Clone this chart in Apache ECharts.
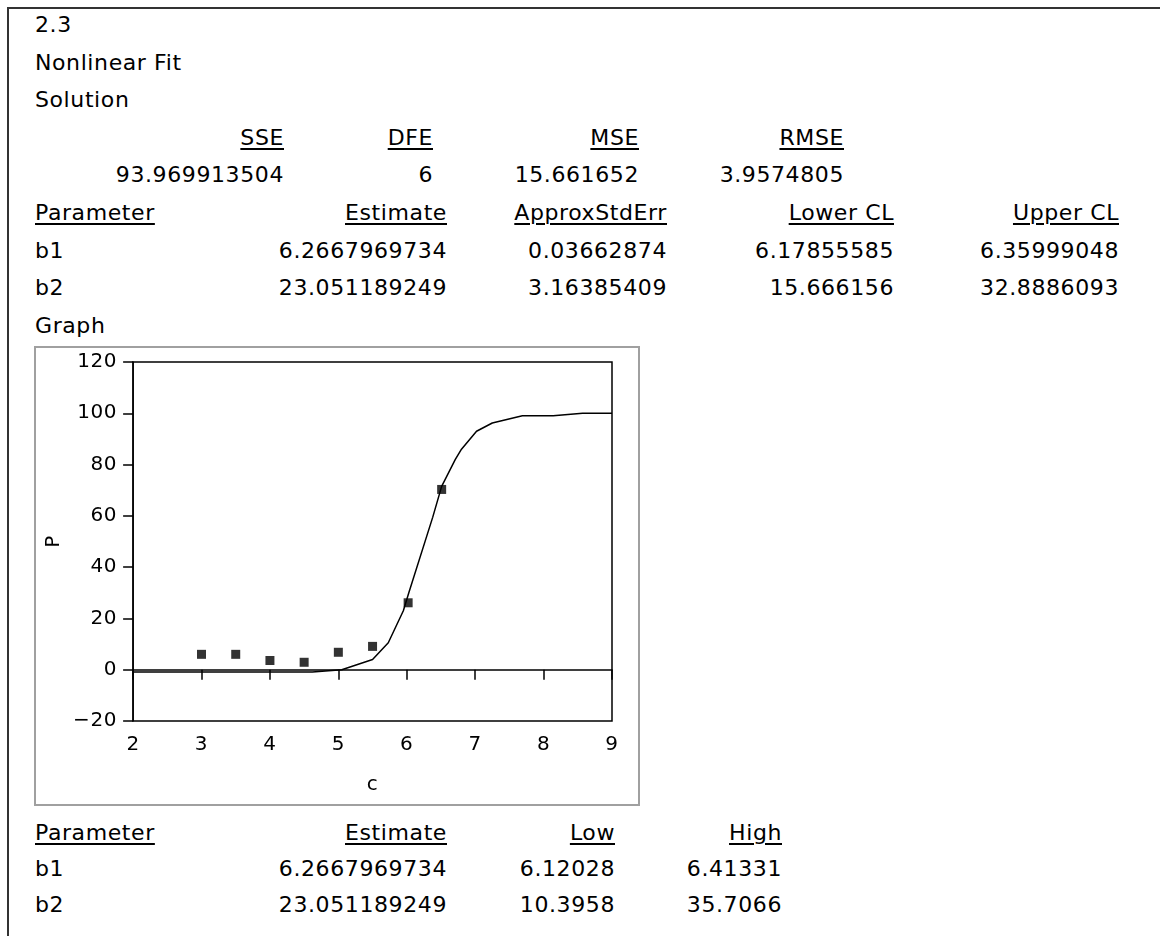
<!DOCTYPE html>
<html>
<head>
<meta charset="utf-8">
<script src="https://cdn.jsdelivr.net/npm/echarts@6/dist/echarts.min.js"></script>
<style>
    body { margin: 0; background: #fff; overflow: hidden; }
    #page { position: relative; width: 1160px; height: 936px; font-family: "DejaVu Sans", sans-serif; font-size: 22px; letter-spacing: 0.6px; color: #000; }
    #frame { position: absolute; left: 7px; top: 7px; width: 1200px; height: 1000px; border-top: 2px solid #333; border-left: 2px solid #333; }
    .t { position: absolute; white-space: nowrap; line-height: 26px; }
    .r { text-align: right; }
    .u { text-decoration: underline; text-decoration-thickness: 2px; text-underline-offset: 3px; }
    #chart { position: absolute; left: 34px; top: 346px; width: 606px; height: 460px; border: 2px solid #a0a0a0; box-sizing: border-box; }
</style>
</head>
<body>
<div id="page">
    <div id="frame"></div>
    <div id="chart"></div>
</div>
<script>
// solution table
var statNames = ['SSE', 'DFE', 'MSE', 'RMSE'];
var statValues = ['93.969913504', '6', '15.661652', '3.9574805'];

// parameter table
var paramHeads = ['Parameter', 'Estimate', 'ApproxStdErr', 'Lower CL', 'Upper CL'];
var paramNames = ['b1', 'b2'];
var estimates = ['6.2667969734', '23.051189249'];
var stdErrs = ['0.03662874', '3.16385409'];
var lowerCL = ['6.17855585', '15.666156'];
var upperCL = ['6.35999048', '32.8886093'];

// limits table
var limitHeads = ['Parameter', 'Estimate', 'Low', 'High'];
var lowLimits = ['6.12028', '10.3958'];
var highLimits = ['6.41331', '35.7066'];

// graph
var obsC = [3, 3.5, 4, 4.5, 5, 5.5, 6.02, 6.51];
var obsP = [6, 6, 3.6, 2.9, 6.8, 9.1, 26.1, 70.3];
var fitC = [2, 4.62, 5.05, 5.5, 5.73, 5.95, 6.03, 6.38, 6.51, 6.71, 6.8, 7.02, 7.25, 7.69, 8.14, 8.57, 9];
var fitP = [-0.9, -0.9, 0, 4, 10.5, 23, 30, 59.5, 71.5, 82, 86, 93, 96.2, 99, 99, 100, 100];

var page = document.getElementById('page');

// text helper: y is row centre, x is left edge or right edge
function put(txt, x, y, right, underline) {
    var d = document.createElement('div');
    d.className = 't' + (right ? ' r' : '') + (underline ? ' u' : '');
    d.textContent = txt;
    d.style.top = (y - 13) + 'px';
    if (right) {
        d.style.right = (1160 - x) + 'px';
    } else {
        d.style.left = x + 'px';
    }
    page.appendChild(d);
}

var LEFT = 35;
var rowY = function (i) { return 25 + i * 37.6; };

put('2.3', LEFT, rowY(0));
put('Nonlinear Fit', LEFT, rowY(1));
put('Solution', LEFT, rowY(2));

var statRight = [284, 433, 639, 844];
for (var i = 0; i < statNames.length; i++) {
    put(statNames[i], statRight[i], rowY(3), true, true);
    put(statValues[i], statRight[i], rowY(4), true);
}

var paramRight = [447, 667, 894, 1119];
put(paramHeads[0], LEFT, rowY(5), false, true);
for (var i = 1; i < paramHeads.length; i++) {
    put(paramHeads[i], paramRight[i - 1], rowY(5), true, true);
}
for (var r = 0; r < paramNames.length; r++) {
    var cols = [estimates[r], stdErrs[r], lowerCL[r], upperCL[r]];
    put(paramNames[r], LEFT, rowY(6 + r));
    for (var c = 0; c < cols.length; c++) {
        put(cols[c], paramRight[c], rowY(6 + r), true);
    }
}
put('Graph', LEFT, rowY(8));

var limRight = [447, 615, 782];
var limTop = 833;
put(limitHeads[0], LEFT, limTop, false, true);
for (var i = 1; i < limitHeads.length; i++) {
    put(limitHeads[i], limRight[i - 1], limTop, true, true);
}
for (var r = 0; r < paramNames.length; r++) {
    var cols = [estimates[r], lowLimits[r], highLimits[r]];
    put(paramNames[r], LEFT, limTop + 36 * (r + 1));
    for (var c = 0; c < cols.length; c++) {
        put(cols[c], limRight[c], limTop + 36 * (r + 1), true);
    }
}

var myChart = echarts.init(document.getElementById('chart'));
var lbl = { color: '#000', fontSize: 20, fontFamily: 'DejaVu Sans' };
var option = {
    animation: false,
    grid: {
        left: 96, right: 26, top: 14, bottom: 83,
        show: true, borderColor: '#000', borderWidth: 1.5
    },
    xAxis: {
        type: 'value', min: 2, max: 9, interval: 1,
        name: 'c', nameLocation: 'middle', nameGap: 54,
        nameTextStyle: lbl,
        axisLine: { lineStyle: { color: '#000', width: 1.5 } },
        axisTick: { length: 10, lineStyle: { color: '#000', width: 1.5 } },
        axisLabel: Object.assign({ margin: 14 }, lbl),
        splitLine: { show: false }
    },
    yAxis: {
        type: 'value', min: -20, max: 120, interval: 20,
        name: 'P', nameLocation: 'middle', nameGap: 62, nameRotate: 90,
        nameTextStyle: lbl,
        axisLine: { show: true, lineStyle: { color: '#000', width: 1.5 } },
        axisTick: { show: true, length: 10, lineStyle: { color: '#000', width: 1.5 } },
        axisLabel: Object.assign({
            margin: 16,
            formatter: function (v) { return String(v).replace('-', '\u2212'); }
        }, lbl),
        splitLine: { show: false }
    },
    series: [
        {
            type: 'line',
            data: fitC.map(function (c, i) { return [c, fitP[i]]; }),
            showSymbol: false,
            lineStyle: { color: '#000', width: 1.5 },
            z: 2
        },
        {
            type: 'scatter',
            data: obsC.map(function (c, i) { return [c, obsP[i]]; }),
            symbol: 'rect', symbolSize: 9,
            itemStyle: { color: '#000' },
            z: 3
        }
    ]
};
myChart.setOption(option);
</script>
</body>
</html>
